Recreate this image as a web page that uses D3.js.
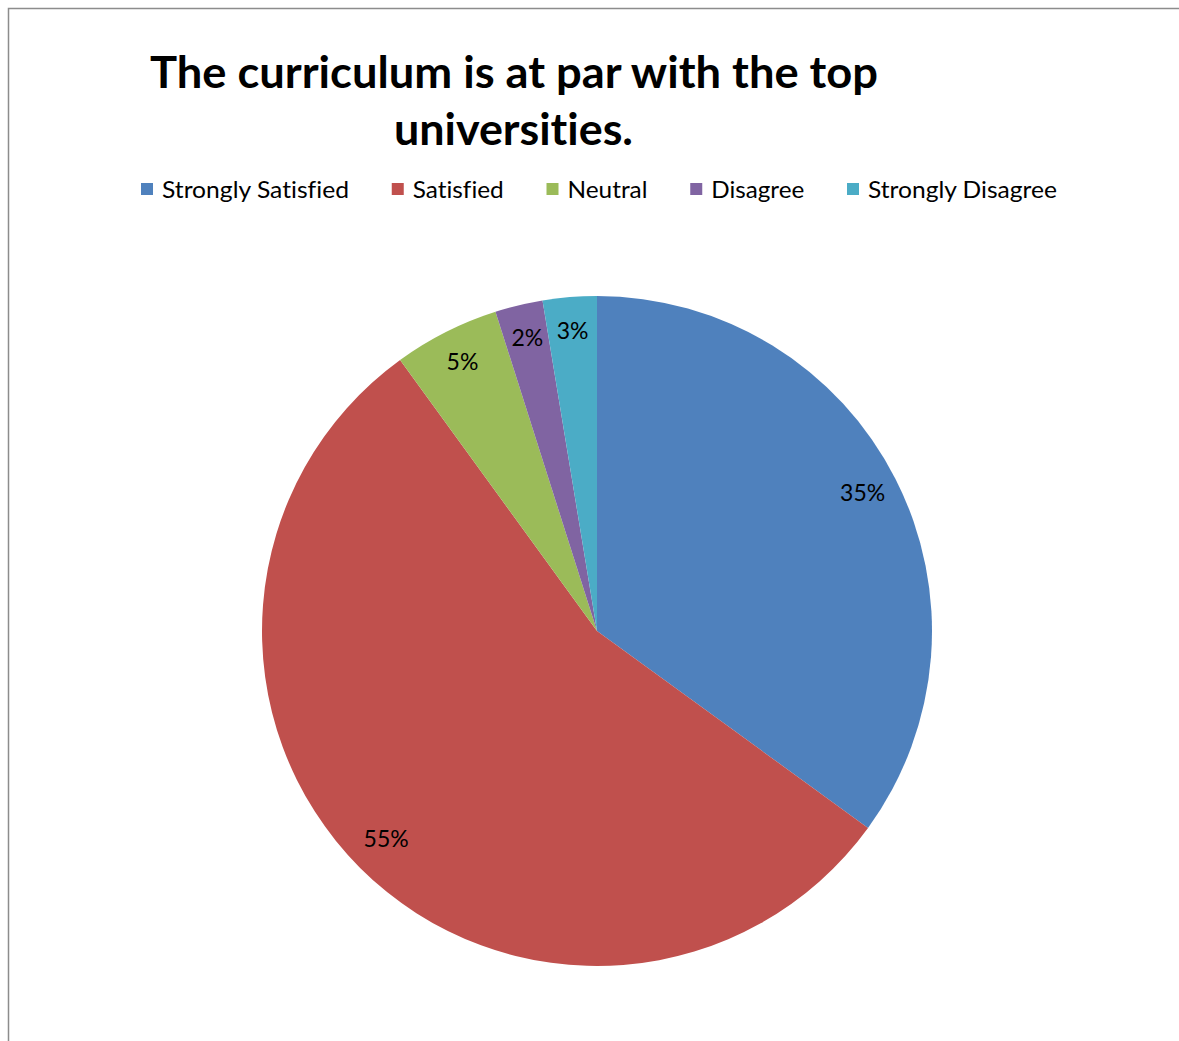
<!DOCTYPE html>
<html>
<head>
<meta charset="utf-8">
<script src="https://cdn.jsdelivr.net/npm/d3@7"></script>
<style>
  html, body { margin: 0; padding: 0; background: #fff; }
  svg { display: block; }
  text { font-variant-ligatures: none; font-feature-settings: "liga" 0; }
</style>
</head>
<body>
<svg id="chart" width="1179" height="1041"></svg>
<script>
// ---- data ----
const titleLines = ["The curriculum is at par with the top", "universities."];
const categories = ["Strongly Satisfied", "Satisfied", "Neutral", "Disagree", "Strongly Disagree"];
const values = [35.0, 55.0, 5.1, 2.3, 2.6];
const colors = ["#4F81BD", "#C0504D", "#9BBB59", "#8064A2", "#4BACC6"];

const FONT = "Lato, 'Open Sans', 'Liberation Sans', sans-serif";
const svg = d3.select("#chart");

// frame
svg.append("rect").attr("x", 8.5).attr("y", 8.5).attr("width", 1300).attr("height", 1200)
  .attr("fill", "#fff").attr("stroke", "#8c8c8c").attr("stroke-width", 1.5);

// title
const titleSpec = [{x: 150, w: 728, y: 88}, {x: 394, w: 239, y: 145}];
svg.selectAll("text.title").data(titleLines).join("text")
  .attr("class", "title")
  .attr("x", (d, i) => titleSpec[i].x)
  .attr("y", (d, i) => titleSpec[i].y)
  .attr("textLength", (d, i) => titleSpec[i].w)
  .attr("lengthAdjust", "spacingAndGlyphs")
  .attr("font-family", FONT).attr("font-weight", "bold").attr("font-size", 44)
  .attr("fill", "#000").text(d => d);

// legend
const legendTextW = [187, 91, 80, 93, 189];
const sw = 12, swGap = 9, itemGap = 42.75;
let lx = 141;
const legendX = legendTextW.map(w => { const x = lx; lx += sw + swGap + w + itemGap; return x; });
const lg = svg.append("g").selectAll("g").data(categories).join("g")
  .attr("transform", (d, i) => `translate(${legendX[i]},0)`);
lg.append("rect").attr("x", 0).attr("y", 183).attr("width", sw).attr("height", sw)
  .attr("fill", (d, i) => colors[i]);
lg.append("text").attr("x", sw + swGap).attr("y", 198)
  .attr("textLength", (d, i) => legendTextW[i]).attr("lengthAdjust", "spacingAndGlyphs")
  .attr("font-family", FONT).attr("font-size", 23).attr("fill", "#000").text(d => d);

// pie
const cx = 597, cy = 631, r = 335;
const pie = d3.pie().sort(null).value(d => d);
const arcs = pie(values);
const arc = d3.arc().innerRadius(0).outerRadius(r);
const labelArc = d3.arc().innerRadius(r * 0.89).outerRadius(r * 0.89);
const total = d3.sum(values);
const fmt = d3.format(".0%");

const g = svg.append("g").attr("transform", `translate(${cx},${cy})`);
g.selectAll("path").data(arcs).join("path")
  .attr("d", arc).attr("fill", (d, i) => colors[i]);
g.selectAll("text").data(arcs).join("text")
  .attr("transform", d => { const [x, y] = labelArc.centroid(d); return `translate(${x},${y - 3})`; })
  .attr("text-anchor", "middle").attr("dy", "0.36em")
  .attr("font-family", FONT).attr("font-size", 23).attr("fill", "#000")
  .text(d => fmt(d.data / total));
</script>
</body>
</html>
